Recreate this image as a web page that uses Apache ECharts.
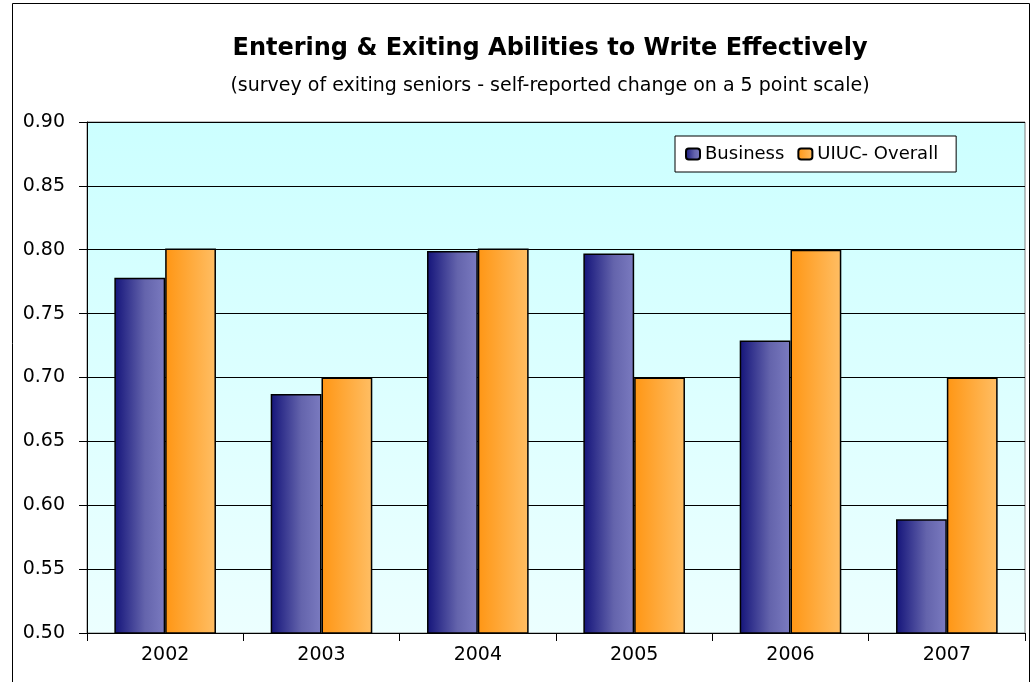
<!DOCTYPE html>
<html>
<head>
<meta charset="utf-8">
<title>Entering & Exiting Abilities to Write Effectively</title>
<script src="https://cdn.jsdelivr.net/npm/echarts@6/dist/echarts.min.js"></script>
<style>
  html, body { margin: 0; padding: 0; background: #fff; }
  #chart { width: 1033px; height: 682px; }
</style>
</head>
<body>
<div id="chart"></div>
<script>
// chart data
const years = ["2002", "2003", "2004", "2005", "2006", "2007"];
const business = [0.778, 0.687, 0.799, 0.797, 0.729, 0.589];
const uiucOverall = [0.801, 0.700, 0.801, 0.700, 0.800, 0.700];
const seriesNames = ["Business", "UIUC- Overall"];

const chart = echarts.init(document.getElementById("chart"));

// horizontal gradients for the bars
const navyFill = new echarts.graphic.LinearGradient(0, 0, 1, 0, [
  { offset: 0, color: "#14147a" },
  { offset: 0.6, color: "#6464ac" },
  { offset: 1, color: "#7b7bc0" },
]);
const orangeFill = new echarts.graphic.LinearGradient(0, 0, 1, 0, [
  { offset: 0, color: "#ff9614" },
  { offset: 1, color: "#ffbe64" },
]);

const option = {
  animation: false,
  textStyle: { fontFamily: "DejaVu Sans, sans-serif", color: "#000" },
  title: {
    text: "Entering & Exiting Abilities to Write Effectively",
    subtext: "(survey of exiting seniors - self-reported change on a 5 point scale)",
    left: 545,
    textAlign: "center",
    top: 32,
    itemGap: 16,
    textStyle: { fontSize: 24, fontWeight: "bold", color: "#000" },
    subtextStyle: { fontSize: 19, color: "#000" },
  },
  legend: {
    data: seriesNames,
    left: 675,
    top: 136,
    padding: [9, 18, 9, 10],
    itemGap: 13,
    itemWidth: 14,
    itemHeight: 11,
    backgroundColor: "#fff",
    borderColor: "#000",
    borderWidth: 1,
    borderRadius: 0,
    textStyle: { fontSize: 18, color: "#000" },
  },
  grid: {
    left: 87,
    right: 8,
    top: 122,
    bottom: 49,
    show: true,
    borderColor: "#808080",
    borderWidth: 1,
    backgroundColor: new echarts.graphic.LinearGradient(0, 0, 0, 1, [
      { offset: 0, color: "#ccffff" },
      { offset: 1, color: "#ecffff" },
    ]),
  },
  xAxis: {
    type: "category",
    data: years,
    axisLine: { lineStyle: { color: "#000", width: 1 } },
    axisTick: { show: true, length: 8, lineStyle: { color: "#000" } },
    axisLabel: { fontSize: 19, color: "#000", margin: 13 },
    splitLine: { show: false },
  },
  yAxis: {
    type: "value",
    min: 0.5,
    max: 0.9,
    interval: 0.05,
    axisLine: { show: true, lineStyle: { color: "#000", width: 1 } },
    axisTick: { show: true, length: 8, lineStyle: { color: "#000" } },
    axisLabel: {
      fontSize: 19,
      color: "#000",
      margin: 22,
      formatter: (v) => v.toFixed(2),
    },
    splitLine: { show: true, lineStyle: { color: "#000", width: 1 } },
  },
  series: [
    {
      name: seriesNames[0],
      type: "bar",
      data: business,
      barGap: "0%",
      barCategoryGap: "35%",
      itemStyle: { color: navyFill, borderColor: "#000", borderWidth: 1.5 },
    },
    {
      name: seriesNames[1],
      type: "bar",
      data: uiucOverall,
      itemStyle: { color: orangeFill, borderColor: "#000", borderWidth: 1.5 },
    },
  ],
  graphic: [
    {
      // outer chart frame
      type: "rect",
      shape: { x: 12.5, y: 3.5, width: 1017, height: 700 },
      style: { fill: null, stroke: "#000", lineWidth: 1 },
      silent: true,
    },
  ],
};

chart.setOption(option);
</script>
</body>
</html>
